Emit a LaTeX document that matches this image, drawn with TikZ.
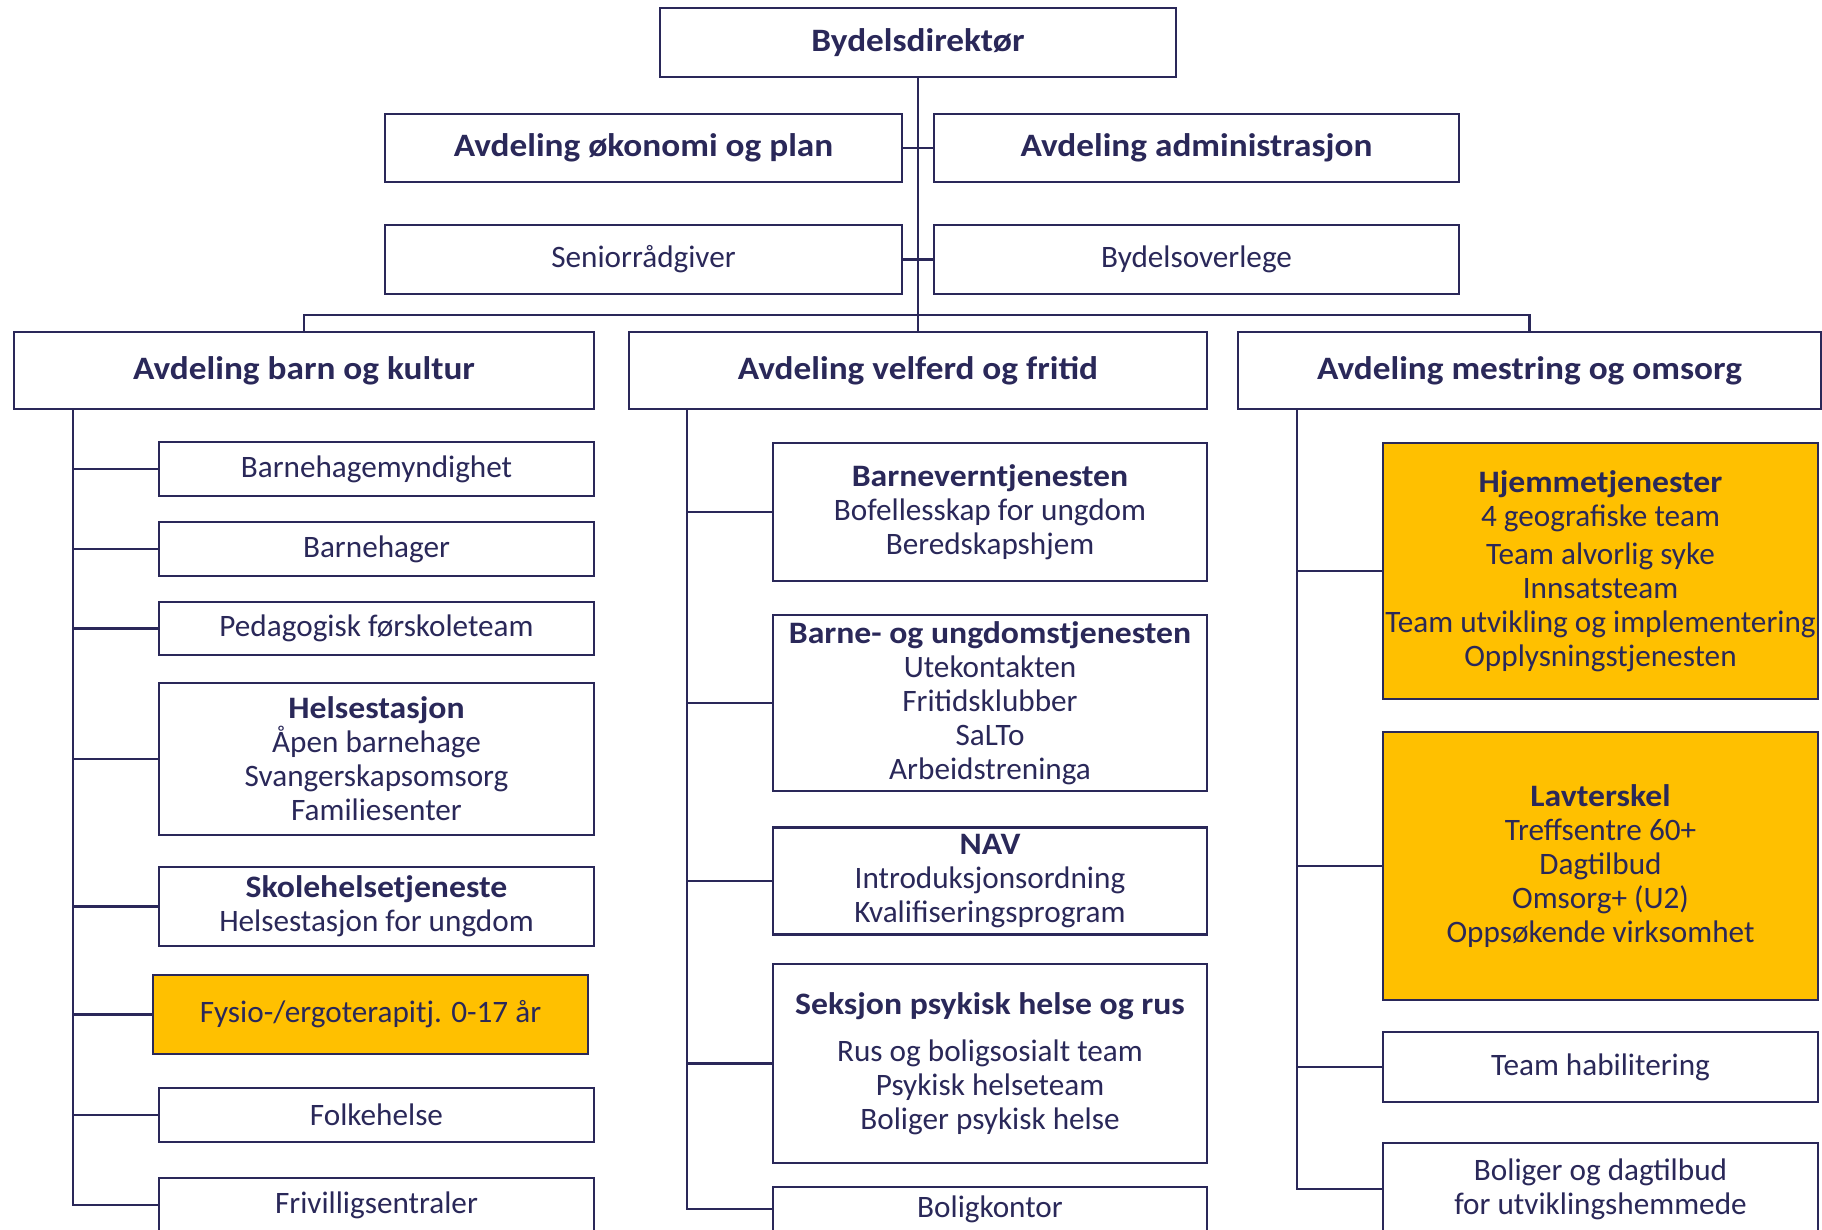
\documentclass[tikz,border=0pt]{standalone}
\usepackage{fontspec}
\setmainfont{Carlito}[BoldFeatures={FakeStretch=1.08}]
\definecolor{navy}{HTML}{2A2859}
\definecolor{gold}{HTML}{FFC000}
\tikzset{
  box/.style={draw=navy, line width=1.75pt, fill=white, text=navy, align=center,
    inner sep=0pt, font=\fontsize{23.4}{25.5}\selectfont},
  title/.style={box, font=\fontsize{24.5}{26}\selectfont\bfseries},
  hl/.style={box, fill=gold},
  wire/.style={draw=navy, line width=1.75pt},
}
\begin{document}
\begin{tikzpicture}[x=0.75pt,y=-0.75pt]
\useasboundingbox (0,0) rectangle (1822,1230);
\clip (0,0) rectangle (1822,1230);
% top
\node[title, minimum width=516*0.75pt, minimum height=69*0.75pt] (dir) at (918,42.5) {Bydelsdirektør};
\node[title, minimum width=517*0.75pt, minimum height=68*0.75pt] (oko) at (643.5,148) {Avdeling økonomi og plan};
\node[title, minimum width=525*0.75pt, minimum height=68*0.75pt] (adm) at (1196.5,148) {Avdeling administrasjon};
\node[box, minimum width=517*0.75pt, minimum height=69*0.75pt] (sen) at (643.5,259.5) {Seniorrådgiver};
\node[box, minimum width=525*0.75pt, minimum height=69*0.75pt] (ovl) at (1196.5,259.5) {Bydelsoverlege};
% departments
\node[title, minimum width=580*0.75pt, minimum height=77*0.75pt] (barn) at (304,370.5) {Avdeling barn og kultur};
\node[title, minimum width=578*0.75pt, minimum height=77*0.75pt] (velf) at (918,370.5) {Avdeling velferd og fritid};
\node[title, minimum width=583*0.75pt, minimum height=77*0.75pt] (mest) at (1529.5,370.5) {Avdeling mestring og omsorg};
% left column
\node[box, minimum width=435*0.75pt, minimum height=54*0.75pt] (b1) at (376.5,469) {Barnehagemyndighet};
\node[box, minimum width=435*0.75pt, minimum height=54*0.75pt] (b2) at (376.5,549) {Barnehager};
\node[box, minimum width=435*0.75pt, minimum height=53*0.75pt] (b3) at (376.5,628.5) {Pedagogisk førskoleteam};
\node[box, minimum width=435*0.75pt, minimum height=152*0.75pt] (b4) at (376.5,759) {\textbf{Helsestasjon}\\Åpen barnehage\\Svangerskapsomsorg\\Familiesenter};
\node[box, minimum width=435*0.75pt, minimum height=79*0.75pt] (b5) at (376.5,906.5) {\textbf{Skolehelsetjeneste}\\Helsestasjon for ungdom};
\node[hl, minimum width=435*0.75pt, minimum height=79*0.75pt] (b6) at (370.5,1014.5) {Fysio-/ergoterapitj. 0-17 år};
\node[box, minimum width=435*0.75pt, minimum height=54*0.75pt] (b7) at (376.5,1115) {Folkehelse};
\node[box, minimum width=435*0.75pt, minimum height=54*0.75pt] (b8) at (376.5,1205) {Frivilligsentraler};
% middle column
\node[box, minimum width=434*0.75pt, minimum height=138*0.75pt] (v1) at (990,512) {\textbf{Barneverntjenesten}\\Bofellesskap for ungdom\\Beredskapshjem};
\node[box, minimum width=434*0.75pt, minimum height=176*0.75pt] (v2) at (990,703) {\textbf{Barne- og ungdomstjenesten}\\Utekontakten\\Fritidsklubber\\SaLTo\\Arbeidstreninga};
\node[box, minimum width=434*0.75pt, minimum height=107*0.75pt] (v3) at (990,881) {\textbf{NAV}\\Introduksjonsordning\\Kvalifiseringsprogram};
\node[box, minimum width=434*0.75pt, minimum height=199*0.75pt] (v4) at (990,1063.5) {\textbf{Seksjon psykisk helse og rus}\\[10pt]Rus og boligsosialt team\\Psykisk helseteam\\Boliger psykisk helse};
\node[box, minimum width=434*0.75pt, minimum height=44*0.75pt] (v5) at (990,1209) {Boligkontor};
% right column
\node[hl, minimum width=435*0.75pt, minimum height=256*0.75pt] (m1) at (1600.5,571) {\textbf{Hjemmetjenester}\\4 geografiske team\\[3pt]Team alvorlig syke\\Innsatsteam\\Team utvikling og implementering\\Opplysningstjenesten};
\node[hl, minimum width=435*0.75pt, minimum height=268*0.75pt] (m2) at (1600.5,866) {\textbf{Lavterskel}\\Treffsentre 60+\\Dagtilbud\\Omsorg+ (U2)\\Oppsøkende virksomhet};
\node[box, minimum width=435*0.75pt, minimum height=70*0.75pt] (m3) at (1600.5,1067) {Team habilitering};
\node[box, minimum width=435*0.75pt, minimum height=92*0.75pt] (m4) at (1600.5,1189) {Boliger og dagtilbud\\for utviklingshemmede};
% connectors top
\coordinate (bar) at (918,315);
\draw[wire] (dir.south) -- (velf.north);
\draw[wire] (oko.east) -- (adm.west);
\draw[wire] (sen.east) -- (ovl.west);
\draw[wire] (barn.north) -- (barn.north |- bar) -- (mest.north |- bar) -- (mest.north);
% left
\coordinate (lt) at (73,409);
\draw[wire] (lt) |- (b8.west);
\foreach \n in {b1,b2,b3,b4,b5,b6,b7} \draw[wire] (lt |- \n.west) -- (\n.west);
% middle
\coordinate (vt) at (687,409);
\draw[wire] (vt) |- (v5.west);
\foreach \n in {v1,v2,v3,v4} \draw[wire] (vt |- \n.west) -- (\n.west);
% right
\coordinate (mt) at (1297,409);
\draw[wire] (mt) |- (m4.west);
\foreach \n in {m1,m2,m3} \draw[wire] (mt |- \n.west) -- (\n.west);
\end{tikzpicture}
\end{document}
